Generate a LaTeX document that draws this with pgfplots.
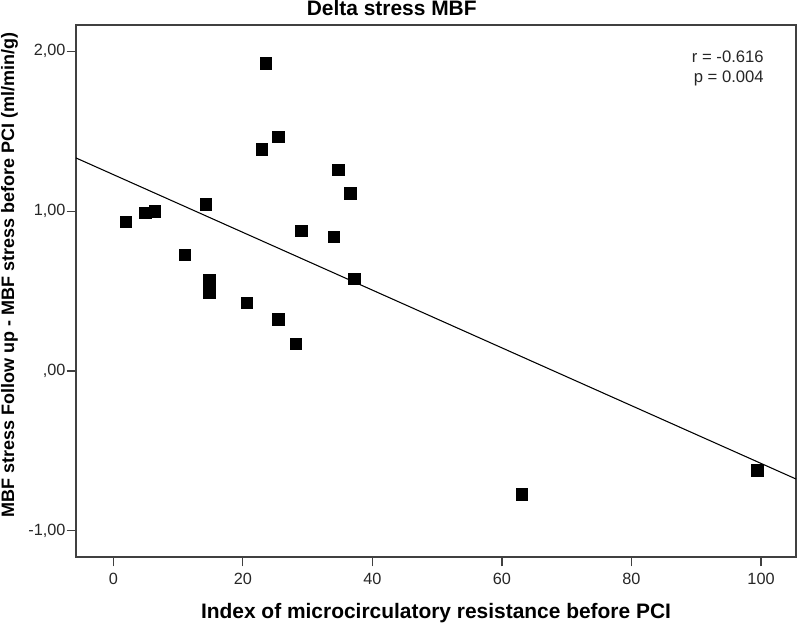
\documentclass[border=0pt]{standalone}
\usepackage{fontspec}
\setmainfont{Liberation Sans}
\usepackage{pgfplots}
\pgfplotsset{compat=1.18}
\begin{document}
\begin{tikzpicture}
\useasboundingbox (-57pt,-49.5pt) rectangle (543pt,417.75pt);
\begin{axis}[
  at={(0,0)}, anchor=south west,
  scale only axis, width=540pt, height=399pt,
  xmin=-5.76, xmax=105.4, ymin=-1.164, ymax=2.165,
  xtick={0,20,40,60,80,100}, xticklabels={0,20,40,60,80,100},
  ytick={-1,0,1,2}, yticklabels={{-1,00},{,00},{1,00},{2,00}},
  tick pos=left, tick align=outside, major tick length=7pt,
  axis line style={black!75, line width=1pt},
  every tick/.style={black!75, line width=0.9pt},
  ticklabel style={font=\fontsize{12.2}{14}\selectfont, text=black!85, inner sep=0pt},
  xticklabel style={anchor=north, yshift=-4.8pt},
  yticklabel style={anchor=east, xshift=-0.7pt},
  title={Delta stress MBF},
  title style={at={(axis description cs:0.4385,1.0314)}, anchor=center, yshift=-6pt, font=\fontsize{15.7}{18}\selectfont\bfseries, inner sep=0pt},
  xlabel={Index of microcirculatory resistance before PCI},
  xlabel style={at={(axis description cs:0.5,-0.1153)}, anchor=base, font=\fontsize{15.7}{18}\selectfont\bfseries, inner sep=0pt},
  ylabel={MBF stress Follow up - MBF stress before PCI (ml/min/g)},
  ylabel style={at={(axis description cs:-0.0861,0.53)}, anchor=base, font=\fontsize{13.5}{16}\selectfont\bfseries, inner sep=0pt},
  clip=true,
]
\addplot[only marks, mark=square*, mark size=4.3pt, mark options={fill=black, draw=black, line width=0.4pt}] coordinates {
  (1.9,0.934) (4.9,0.99) (6.4,1.00) (14.3,1.043) (23.5,1.925) (22.9,1.387)
  (25.5,1.466) (34.7,1.258) (36.6,1.112) (29.0,0.878) (34.0,0.840) (11.0,0.726)
  (14.8,0.569) (14.8,0.492) (20.6,0.427) (25.5,0.323) (28.2,0.169) (37.2,0.576)
  (63.1,-0.772) (99.4,-0.62)
};
\addplot[black, line width=0.8pt] coordinates {(-5.76,1.333) (105.4,-0.676)};
\node[anchor=base east, font=\fontsize{12.5}{15}\selectfont, text=black!85, inner sep=0pt] at (axis description cs:0.9556,0.9286) {r = -0.616};
\node[anchor=base east, font=\fontsize{12.5}{15}\selectfont, text=black!85, inner sep=0pt] at (axis description cs:0.9556,0.891) {p = 0.004};
\end{axis}
\end{tikzpicture}
\end{document}
